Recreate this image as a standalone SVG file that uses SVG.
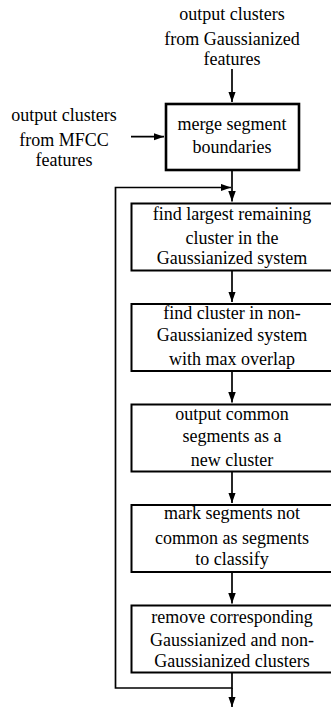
<svg xmlns="http://www.w3.org/2000/svg" width="331" height="709" viewBox="0 0 331 709">
  <style>
    text { font-family: "Liberation Serif", "Times New Roman", serif; font-size: 18px; fill: #000; text-anchor: middle; }
    .box { fill: #fff; stroke: #000; stroke-width: 2; }
    .merge { fill: #fff; stroke: #000; stroke-width: 2.6; }
    .conn { fill: none; stroke: #000; stroke-width: 1.7; }
  </style>
  <defs>
    <marker id="arrow" markerUnits="userSpaceOnUse" markerWidth="11" markerHeight="8" refX="10.5" refY="3.75" orient="auto">
      <path d="M0,0 L10.5,3.75 L0,7.5 z" fill="#000"/>
    </marker>
  </defs>
  <rect width="331" height="709" fill="#fff"/>

  <g id="connectors">
    <line class="conn" x1="232" y1="69" x2="232" y2="102" marker-end="url(#arrow)"/>
    <line class="conn" x1="131" y1="136.7" x2="164" y2="136.7" marker-end="url(#arrow)"/>
    <line class="conn" x1="232" y1="171" x2="232" y2="201.5" marker-end="url(#arrow)"/>
    <polyline class="conn" points="232,673 232,688 115.5,688 115.5,187.5 231,187.5" marker-end="url(#arrow)"/>
    <line class="conn" x1="232" y1="271" x2="232" y2="302" marker-end="url(#arrow)"/>
    <line class="conn" x1="232" y1="371.5" x2="232" y2="402.5" marker-end="url(#arrow)"/>
    <line class="conn" x1="232" y1="472" x2="232" y2="503" marker-end="url(#arrow)"/>
    <line class="conn" x1="232" y1="572.5" x2="232" y2="603.5" marker-end="url(#arrow)"/>
    <line class="conn" x1="232" y1="688" x2="232" y2="707" marker-end="url(#arrow)"/>
  </g>

  <g id="input-gaussianized">
    <text x="232" y="20">output clusters</text>
    <text x="232" y="45.3">from Gaussianized</text>
    <text x="232" y="65">features</text>
  </g>

  <g id="input-mfcc">
    <text x="64" y="120.5">output clusters</text>
    <text x="64" y="145.5">from MFCC</text>
    <text x="64" y="165.5">features</text>
  </g>

  <g id="merge">
    <rect class="merge" x="166" y="104" width="133" height="66"/>
    <text x="232" y="130">merge segment</text>
    <text x="232" y="153.3">boundaries</text>
  </g>

  <g id="find-largest">
    <rect class="box" x="131.5" y="203.5" width="202" height="67"/>
    <text x="232" y="219.7">find largest remaining</text>
    <text x="232" y="244.3">cluster in the</text>
    <text x="232" y="264">Gaussianized system</text>
  </g>

  <g id="find-overlap">
    <rect class="box" x="131.5" y="304" width="202" height="67"/>
    <text x="232" y="319.3">find cluster in non-</text>
    <text x="232" y="340.7">Gaussianized system</text>
    <text x="232" y="365">with max overlap</text>
  </g>

  <g id="output-common">
    <rect class="box" x="131.5" y="404.5" width="202" height="67"/>
    <text x="232" y="420">output common</text>
    <text x="232" y="442.3">segments as a</text>
    <text x="232" y="465.7">new cluster</text>
  </g>

  <g id="mark-segments">
    <rect class="box" x="131.5" y="505" width="202" height="67"/>
    <text x="232" y="519.3">mark segments not</text>
    <text x="232" y="544">common as segments</text>
    <text x="232" y="565">to classify</text>
  </g>

  <g id="remove-clusters">
    <rect class="box" x="131.5" y="605.5" width="202" height="67"/>
    <text x="232" y="623.3">remove corresponding</text>
    <text x="232" y="646">Gaussianized and non-</text>
    <text x="232" y="666.7">Gaussianized clusters</text>
  </g>
</svg>
